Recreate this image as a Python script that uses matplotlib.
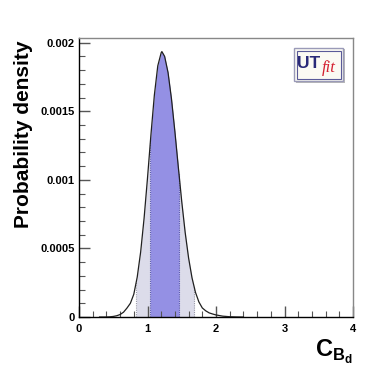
import numpy as np
import matplotlib
matplotlib.use("Agg")
import matplotlib.pyplot as plt
from matplotlib.patches import Rectangle
from matplotlib.ticker import MultipleLocator, FixedFormatter, FixedLocator

# ---- data ----
x_vals = [0.30, 0.40, 0.45, 0.50, 0.55, 0.60, 0.65, 0.70, 0.75, 0.80, 0.85,
          0.90, 0.95, 1.00, 1.05, 1.10, 1.15, 1.20, 1.21, 1.25, 1.30, 1.35,
          1.40, 1.45, 1.50, 1.55, 1.60, 1.65, 1.70, 1.75, 1.80, 1.85, 1.90,
          1.95, 2.00, 2.10, 2.20, 2.30, 2.40]
density = [0.0, 2e-7, 1.5e-6, 4e-6, 9e-6, 1.8e-5, 3.5e-5, 6.5e-5, 1.0e-4,
           1.66e-4, 2.91e-4, 4.74e-4, 7.19e-4, 1.013e-3, 1.328e-3, 1.617e-3,
           1.831e-3, 1.927e-3, 1.935e-3, 1.900e-3, 1.782e-3, 1.590e-3,
           1.351e-3, 1.092e-3, 8.41e-4, 6.16e-4, 4.30e-4, 2.85e-4, 1.80e-4,
           1.10e-4, 6.6e-5, 4.5e-5, 3.0e-5, 2.2e-5, 1.5e-5, 6e-6, 2e-6,
           5e-7, 0.0]
interval_68 = [1.04, 1.46]
interval_95 = [0.837, 1.68]
x_ticks = [0, 1, 2, 3, 4]
y_ticks = [0, 0.0005, 0.001, 0.0015, 0.002]
y_tick_labels = ["0", "0.0005", "0.001", "0.0015", "0.002"]

plt.rcParams['font.family'] = ['Liberation Sans', 'DejaVu Sans']
plt.rcParams['mathtext.fontset'] = 'custom'
plt.rcParams['mathtext.bf'] = 'Liberation Sans:bold'
plt.rcParams['mathtext.rm'] = 'Liberation Sans:bold'

x = np.array(x_vals)
y = np.array(density)

fig = plt.figure(figsize=(3.92, 3.74), dpi=100)
ax = fig.add_axes([79/392, 57/374, 274/392, 279/374])
ax.set_xlim(0, 4)
ax.set_ylim(0, 0.002034)


def band(lo, hi, color):
    m = (x > lo) & (x < hi)
    xs = np.concatenate([[lo], x[m], [hi]])
    ys = np.interp(xs, x, y)
    ax.fill_between(xs, 0, ys, color=color, lw=0, zorder=1)
    return ys[0], ys[-1]


l95, h95 = band(interval_95[0], interval_95[1], '#dcdcea')
l68, h68 = band(interval_68[0], interval_68[1], '#9490e4')
ax.vlines(interval_95, 0, [l95, h95], colors='#9a9aaa', lw=0.8,
          linestyles=(0, (1, 1)), zorder=2)
ax.vlines(interval_68, 0, [l68, h68], colors='#5a58b0', lw=0.8,
          linestyles=(0, (1, 1)), zorder=2)
ax.plot(x, y, color='#202020', lw=0.9, zorder=3)

# axes styling
for s in ['top', 'right']:
    ax.spines[s].set_color('#888888')
    ax.spines[s].set_linewidth(1.0)
for s in ['left', 'bottom']:
    ax.spines[s].set_color('black')
    ax.spines[s].set_linewidth(1.0)

ax.xaxis.set_major_locator(FixedLocator(x_ticks))
ax.xaxis.set_minor_locator(MultipleLocator(0.2))
ax.yaxis.set_major_locator(FixedLocator(y_ticks))
ax.yaxis.set_major_formatter(FixedFormatter(y_tick_labels))
ax.yaxis.set_minor_locator(MultipleLocator(0.0001))
ax.tick_params(which='both', direction='in', top=False, right=False,
               color='#555555')
ax.tick_params(which='major', length=8, width=1.0, labelsize=8, pad=3)
ax.tick_params(which='minor', length=4, width=0.8)
ax.tick_params(axis='x', which='major', pad=5)
for lab in ax.get_xticklabels() + ax.get_yticklabels():
    lab.set_fontweight('bold')

# axis titles
fig.text(24/392, 1 - 40/374, 'Probability density', rotation=90,
         ha='center', va='top', fontsize=15, fontweight='bold')
fig.text(353/392, 1 - 338/374, r'$\mathbf{C}_{\mathbf{B}_{\mathbf{d}}}$',
         ha='right', va='top', fontsize=17)

# UTfit logo
lx0, ly0, lw, lh = 294, 48, 49, 33
fig.patches.append(Rectangle(((lx0 + 1.5)/392, 1 - (ly0 + lh + 1.5)/374),
                             lw/392, lh/374, transform=fig.transFigure,
                             facecolor='#b8b8b8', edgecolor='none', zorder=5))
fig.patches.append(Rectangle((lx0/392, 1 - (ly0 + lh)/374), lw/392, lh/374,
                             transform=fig.transFigure, facecolor='#fbfaf3',
                             edgecolor='#9a9ab8', lw=1.0, zorder=6))
fig.patches.append(Rectangle(((lx0 + 2.5)/392, 1 - (ly0 + lh - 2.5)/374),
                             (lw - 5)/392, (lh - 5)/374,
                             transform=fig.transFigure, facecolor='none',
                             edgecolor='#5a5a98', lw=0.8, zorder=7))
fig.text((lx0 + 3.5)/392, 1 - (ly0 + 15)/374, 'UT', color='#2a2a78',
         fontsize=12.5, fontweight='bold', ha='left', va='center', zorder=8)
fig.text((lx0 + 27.5)/392, 1 - (ly0 + 20)/374, 'fit', color='#d42030',
         fontsize=12, fontstyle='italic', family='Liberation Serif',
         ha='left', va='center', zorder=8)

fig.savefig('out.png', dpi=100)
